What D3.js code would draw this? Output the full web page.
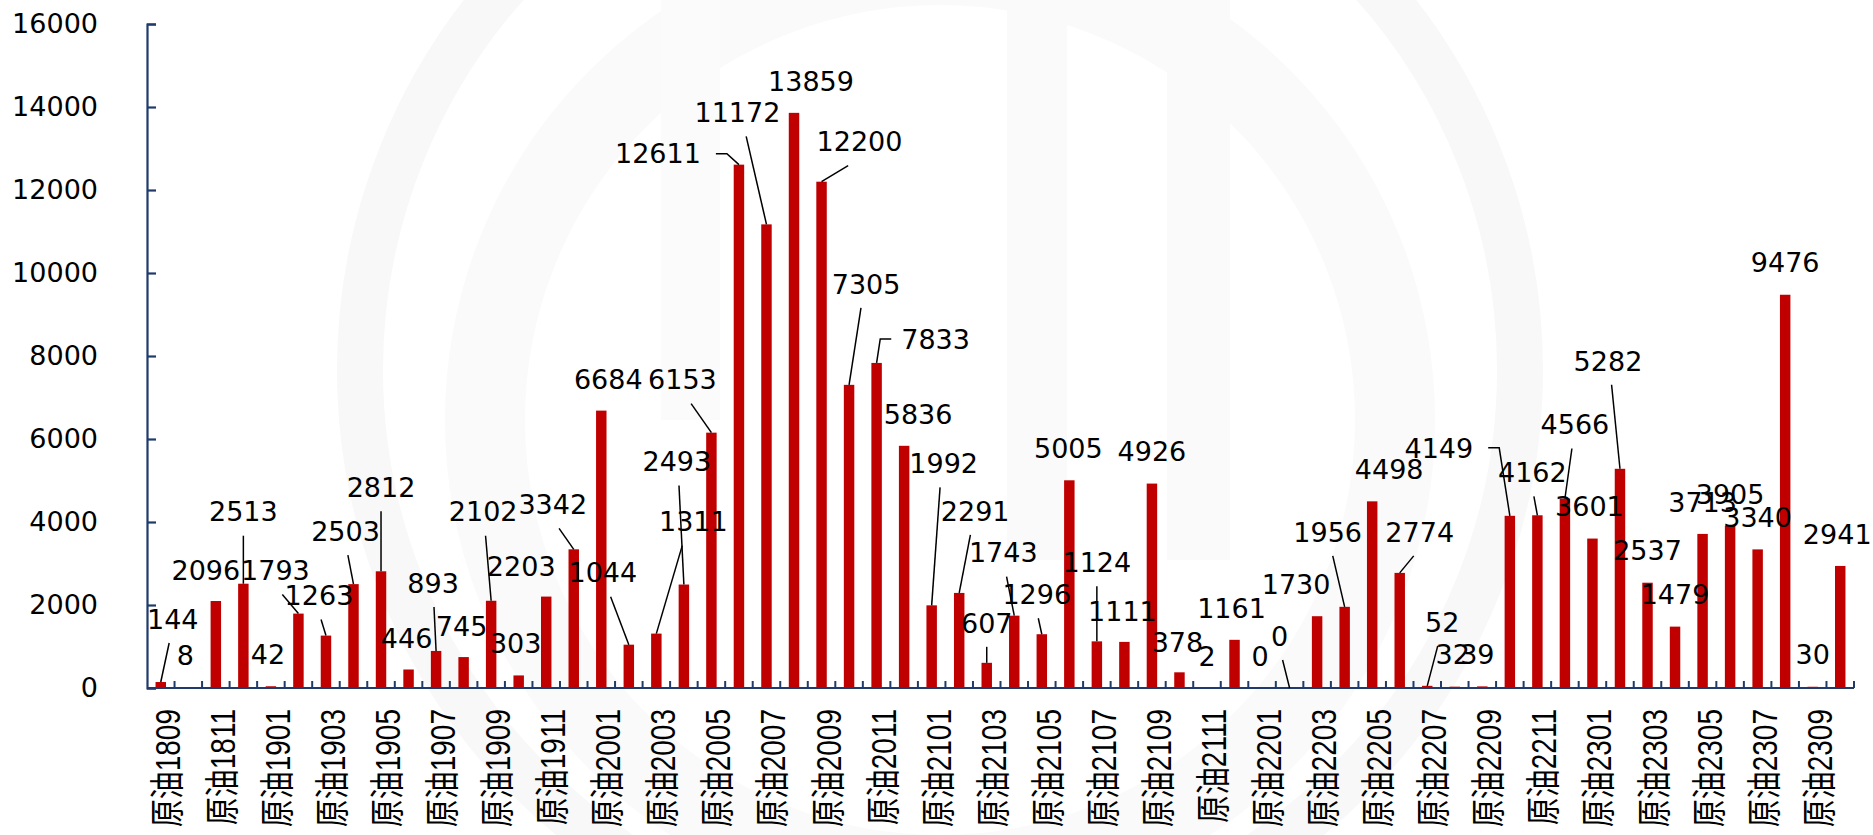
<!DOCTYPE html>
<html>
<head>
<meta charset="utf-8">
<script src="https://cdn.jsdelivr.net/npm/d3@7"></script>
<style>
  body { margin: 0; background: #fff; }
  svg text { font-family: "DejaVu Sans", "Noto Sans CJK SC", sans-serif; }
</style>
</head>
<body>
<svg id="chart" width="1873" height="835"></svg>
<script>
const categories = [
  "原油1809", "原油1810", "原油1811", "原油1812",
  "原油1901", "原油1902", "原油1903", "原油1904", "原油1905", "原油1906",
  "原油1907", "原油1908", "原油1909", "原油1910", "原油1911", "原油1912",
  "原油2001", "原油2002", "原油2003", "原油2004", "原油2005", "原油2006",
  "原油2007", "原油2008", "原油2009", "原油2010", "原油2011", "原油2012",
  "原油2101", "原油2102", "原油2103", "原油2104", "原油2105", "原油2106",
  "原油2107", "原油2108", "原油2109", "原油2110", "原油2111", "原油2112",
  "原油2201", "原油2202", "原油2203", "原油2204", "原油2205", "原油2206",
  "原油2207", "原油2208", "原油2209", "原油2210", "原油2211", "原油2212",
  "原油2301", "原油2302", "原油2303", "原油2304", "原油2305", "原油2306",
  "原油2307", "原油2308", "原油2309", "原油2310"
];

const volumes = [
  144, 8, 2096, 2513,
  42, 1793, 1263, 2503, 2812, 446, 893, 745, 2102, 303, 2203, 3342,
  6684, 1044, 1311, 2493, 6153, 12611, 11172, 13859, 12200, 7305, 7833, 5836,
  1992, 2291, 607, 1743, 1296, 5005, 1124, 1111, 4926, 378, 2, 1161,
  0, 0, 1730, 1956, 4498, 2774, 52, 32, 39, 4149, 4162, 4566,
  3601, 5282, 2537, 1479, 3713, 3905, 3340, 9476, 30, 2941
];

const yTicks = [0, 2000, 4000, 6000, 8000, 10000, 12000, 14000, 16000];

// hand-placed data labels (px offset from the default spot, leader line?)
const labelNudge = [
  [12, -31, 1], [-3, 0, 0], [-10, 1, 0], [0, -40, 1],
  [-3, 0, 0], [-23, -11, 1], [-7, -8, 1], [-8, -21, 1], [0, -52, 1], [-2, 1, 0],
  [-3, -36, 1], [-2, 1, 0], [-8, -57, 1], [-3, 0, 0], [-25, 2, 0], [-21, -13, 1],
  [7, 1, 0], [-26, -40, 1], [37, -80, 1], [-7, -91, 1], [-29, -21, 1], [-81, 21, 1],
  [-29, -80, 1], [17, 0, 0], [38, -8, 1], [17, -69, 1], [59, 8, 1], [14, 0, 0],
  [12, -110, 1], [16, -50, 1], [0, -8, 1], [-11, -31, 1], [-5, -8, 1], [-1, 0, 0],
  [0, -47, 1], [-2, 1, 0], [0, 0, 0], [-2, 2, 0], [0, 0, 0], [-3, 0, 0],
  [-2, 0, 0], [-10, -20, 1], [-21, 0, 0], [-17, -43, 1], [17, 0, 0], [20, -9, 1],
  [15, -32, 1], [-2, 0, 0], [-5, 0, 0], [-71, -36, 1], [-5, -11, 1], [10, -42, 1],
  [-3, 0, 0], [-12, -76, 1], [0, 0, 0], [0, 0, 0], [0, 0, 0], [0, 0, 0],
  [0, 0, 0], [0, 0, 0], [0, 0, 0], [-3, 0, 0]
];

var svg = d3.select("svg#chart"),
  margin = { top: 24, right: 19, bottom: 147, left: 147 },
  width = +svg.attr("width") - margin.left - margin.right,
  height = +svg.attr("height") - margin.top - margin.bottom;

const axisColor = "#1F3A6B";

// faint logo watermark behind the plot
const wm = svg.append("g").attr("class", "watermark");
wm.append("circle")
  .attr("cx", 940).attr("cy", 370).attr("r", 580)
  .attr("fill", "none").attr("stroke", "#f8f8f8").attr("stroke-width", 46);
wm.append("circle")
  .attr("cx", 940).attr("cy", 420).attr("r", 455)
  .attr("fill", "none").attr("stroke", "#fafafa").attr("stroke-width", 80);
wm.append("rect").attr("x", 1007).attr("y", 0).attr("width", 60).attr("height", 560).attr("fill", "#fafafa");
wm.append("rect").attr("x", 1167).attr("y", 0).attr("width", 63).attr("height", 560).attr("fill", "#fafafa");
wm.append("rect").attr("x", 661).attr("y", 0).attr("width", 59).attr("height", 420).attr("fill", "#fbfbfb");

const chartG = svg.append("g")
  .attr("transform", `translate(${margin.left}, ${margin.top})`);

const xScale = d3.scaleBand().domain(categories).range([0, width]).padding(0);
const yScale = d3.scaleLinear().domain([0, 16000]).range([height, 0]);
const barW = xScale.step() * 0.38;

// bars
chartG.append("g")
  .selectAll("rect")
  .data(volumes)
  .join("rect")
  .attr("x", (d, i) => xScale(categories[i]) + (xScale.step() - barW) / 2)
  .attr("y", d => yScale(d))
  .attr("width", barW)
  .attr("height", d => height - yScale(d))
  .attr("fill", "#C00000");

// y axis
const yAxis = d3.axisLeft(yScale).tickValues(yTicks).tickSize(-9).tickPadding(49)
  .tickFormat(d3.format("d"));
chartG.append("g")
  .attr("class", "y axis")
  .call(yAxis)
  .call(g => {
    g.selectAll(".domain").attr("stroke", axisColor).attr("stroke-width", 2.2);
    g.selectAll(".tick line").attr("stroke", axisColor).attr("stroke-width", 2.2);
    g.selectAll(".tick text")
      .attr("fill", "#000")
      .style("font-size", "27px");
  });

// x axis: line plus boundary ticks
const xg = chartG.append("g").attr("class", "x axis")
  .attr("transform", `translate(0, ${height})`);
xg.append("line")
  .attr("x1", 0).attr("x2", width)
  .attr("stroke", axisColor).attr("stroke-width", 2.2);
xg.selectAll(".btick")
  .data(d3.range(1, categories.length + 1))
  .join("line")
  .attr("class", "btick")
  .attr("x1", i => i * xScale.step()).attr("x2", i => i * xScale.step())
  .attr("y1", 0).attr("y2", -7)
  .attr("stroke", axisColor).attr("stroke-width", 2);

// rotated category labels, every other one
xg.selectAll(".xlab")
  .data(categories.filter((c, i) => i % 2 === 0))
  .join("text")
  .attr("class", "xlab")
  .attr("transform", c => `translate(${xScale(c) + xScale.bandwidth() / 2 + 19}, 21) rotate(-90) scale(1, 1.25)`)
  .attr("text-anchor", "end")
  .style("font-family", '"Liberation Sans", "Noto Sans CJK SC", sans-serif')
  .style("font-size", "28px")
  .attr("fill", "#000")
  .text(c => c);

// data labels with leader lines
const labG = chartG.append("g").attr("class", "labels");
volumes.forEach((v, i) => {
  const bx = xScale(categories[i]) + xScale.bandwidth() / 2;
  const top = yScale(v);
  const [dx, dy, leader] = labelNudge[i];
  const lx = bx + dx, ly = top - 32 + dy;
  const t = labG.append("text")
    .attr("x", lx).attr("y", ly).attr("dy", "0.36em")
    .attr("text-anchor", "middle")
    .style("font-size", "27px")
    .attr("fill", "#000")
    .text(v);
  if (!leader) return;
  const halfW = t.node().getComputedTextLength() / 2;
  let pts;
  if (Math.abs(bx - lx) > halfW + 10) {
    const dir = bx > lx ? 1 : -1;
    const sx = lx + dir * (halfW + (dir > 0 ? 15 : 10));
    pts = [[sx, ly], [sx + dir * 11, ly], [bx, top]];
  } else {
    pts = [[lx + (bx - lx) * 0.3, ly + 24], [bx, top]];
  }
  labG.append("path")
    .attr("d", d3.line()(pts))
    .attr("fill", "none")
    .attr("stroke", "#000")
    .attr("stroke-width", 1.5);
});
</script>
</body>
</html>
